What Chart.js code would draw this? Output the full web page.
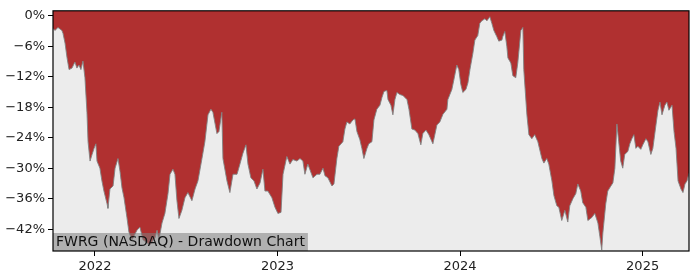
<!DOCTYPE html>
<html>
<head>
<meta charset="utf-8">
<script src="https://cdn.jsdelivr.net/npm/chart.js@4"></script>
<style>
  html, body { margin: 0; padding: 0; background: #fff; }
  #wrap { width: 700px; height: 280px; }
</style>
</head>
<body>
<div id="wrap"><canvas id="ddChart" width="700" height="280"></canvas></div>
<script>
// dates as decimal years, drawdown in percent
const dates = [
  2021.770, 2021.781, 2021.797, 2021.819, 2021.825, 2021.836, 2021.847, 2021.858, 2021.874, 2021.890,
  2021.901, 2021.912, 2021.923, 2021.934, 2021.945, 2021.956, 2021.962, 2021.973, 2021.984, 2021.995,
  2022.005, 2022.011, 2022.027, 2022.038, 2022.049, 2022.066, 2022.071, 2022.082, 2022.099, 2022.110,
  2022.126, 2022.137, 2022.148, 2022.159, 2022.175, 2022.186, 2022.203, 2022.230, 2022.246, 2022.263,
  2022.301, 2022.329, 2022.340, 2022.350, 2022.367, 2022.383, 2022.400, 2022.411, 2022.427, 2022.438,
  2022.449, 2022.460, 2022.476, 2022.493, 2022.509, 2022.531, 2022.548, 2022.564, 2022.586, 2022.602,
  2022.619, 2022.635, 2022.646, 2022.668, 2022.679, 2022.695, 2022.701, 2022.723, 2022.739, 2022.756,
  2022.778, 2022.794, 2022.810, 2022.827, 2022.838, 2022.854, 2022.871, 2022.887, 2022.904, 2022.920,
  2022.931, 2022.947, 2022.969, 2022.986, 2023.002, 2023.019, 2023.030, 2023.051, 2023.068, 2023.084,
  2023.106, 2023.123, 2023.139, 2023.150, 2023.166, 2023.194, 2023.216, 2023.232, 2023.249, 2023.260,
  2023.276, 2023.298, 2023.309, 2023.325, 2023.336, 2023.358, 2023.369, 2023.380, 2023.396, 2023.413,
  2023.424, 2023.435, 2023.451, 2023.462, 2023.473, 2023.490, 2023.500, 2023.517, 2023.528, 2023.544,
  2023.561, 2023.572, 2023.583, 2023.599, 2023.605, 2023.621, 2023.632, 2023.643, 2023.654, 2023.670,
  2023.687, 2023.709, 2023.720, 2023.736, 2023.752, 2023.769, 2023.785, 2023.796, 2023.813, 2023.829,
  2023.851, 2023.873, 2023.889, 2023.906, 2023.928, 2023.933, 2023.955, 2023.966, 2023.982, 2023.993,
  2024.004, 2024.015, 2024.032, 2024.043, 2024.054, 2024.070, 2024.081, 2024.097, 2024.108, 2024.119,
  2024.136, 2024.147, 2024.163, 2024.174, 2024.185, 2024.201, 2024.212, 2024.229, 2024.234, 2024.245,
  2024.256, 2024.262, 2024.278, 2024.289, 2024.305, 2024.316, 2024.333, 2024.344, 2024.349, 2024.366,
  2024.377, 2024.393, 2024.409, 2024.426, 2024.448, 2024.459, 2024.475, 2024.486, 2024.503, 2024.514,
  2024.530, 2024.541, 2024.557, 2024.574, 2024.590, 2024.601, 2024.618, 2024.634, 2024.645, 2024.661,
  2024.672, 2024.689, 2024.700, 2024.722, 2024.738, 2024.755, 2024.766, 2024.776, 2024.782, 2024.798,
  2024.809, 2024.826, 2024.837, 2024.848, 2024.859, 2024.869, 2024.880, 2024.891, 2024.902, 2024.919,
  2024.930, 2024.941, 2024.952, 2024.963, 2024.974, 2024.990, 2025.001, 2025.018, 2025.029, 2025.045,
  2025.056, 2025.073, 2025.084, 2025.095, 2025.106, 2025.122, 2025.133, 2025.144, 2025.161, 2025.172,
  2025.183, 2025.194, 2025.210, 2025.221, 2025.232, 2025.243, 2025.254
];
const drawdown = [
  -2.5, -2.9, -2.3, -2.9, -3.5, -5.4, -8.3, -10.6, -10.3, -9.1,
  -10.3, -9.7, -10.6, -8.9, -12.2, -19.0, -24.8, -28.6, -27.3, -26.1,
  -25.2, -28.6, -30.0, -32.5, -34.5, -37.0, -37.9, -34.1, -33.5, -30.0,
  -28.1, -30.6, -33.9, -35.8, -39.7, -42.6, -44.1, -42.2, -41.6, -44.1,
  -45.1, -43.7, -42.2, -44.1, -40.8, -38.9, -35.0, -31.2, -30.2, -31.2,
  -36.4, -39.9, -38.3, -35.8, -34.8, -36.4, -34.1, -32.5, -28.1, -24.8,
  -19.5, -18.4, -19.0, -23.2, -22.8, -19.0, -28.1, -32.5, -34.8, -31.2,
  -31.2, -29.2, -27.1, -25.4, -29.2, -31.9, -32.5, -34.1, -32.9, -30.2,
  -34.5, -34.5, -35.8, -37.7, -38.9, -38.7, -31.2, -27.7, -29.2, -28.3,
  -28.6, -28.1, -28.6, -31.2, -29.2, -31.9, -31.2, -31.2, -30.0, -31.5,
  -31.9, -33.5, -33.1, -28.1, -25.7, -24.8, -22.3, -20.9, -21.3, -20.5,
  -20.3, -22.8, -24.4, -26.1, -28.1, -26.1, -25.2, -24.8, -20.5, -18.4,
  -17.6, -16.1, -14.9, -14.7, -16.5, -17.6, -19.5, -16.5, -15.1, -15.5,
  -15.7, -16.5, -18.4, -22.3, -22.5, -23.2, -25.4, -23.2, -22.5, -23.4,
  -25.2, -21.5, -20.9, -19.4, -18.4, -16.5, -14.5, -12.6, -9.7, -10.6,
  -13.5, -15.1, -14.5, -13.2, -10.6, -7.4, -4.8, -3.9, -1.5, -1.0,
  -0.6, -1.0, -0.2, -1.5, -2.9, -4.1, -5.0, -4.8, -4.1, -3.1,
  -6.0, -8.3, -9.3, -11.8, -12.2, -9.3, -2.9, -2.3, -10.6, -19.5,
  -23.4, -24.2, -23.4, -24.8, -28.1, -29.0, -28.1, -29.2, -32.5, -35.4,
  -37.4, -37.7, -40.3, -38.3, -40.6, -37.4, -36.0, -35.0, -33.1, -34.5,
  -36.8, -37.7, -40.3, -39.7, -38.9, -40.8, -43.5, -46.1, -42.8, -37.0,
  -34.5, -33.5, -32.9, -30.0, -21.3, -24.8, -28.6, -30.0, -27.3, -26.7,
  -25.2, -24.2, -23.4, -26.1, -25.7, -26.3, -25.4, -24.2, -24.8, -27.3,
  -26.1, -21.5, -18.6, -17.0, -19.5, -17.6, -17.0, -18.6, -17.6, -22.8,
  -26.1, -32.5, -34.1, -34.8, -33.1, -32.5, -31.0
];
const yearTicks = [2022, 2023, 2024, 2025];
const pctTicks = [0, -6, -12, -18, -24, -30, -36, -42];
const chartTitle = 'FWRG (NASDAQ) - Drawdown Chart';

const points = dates.map((d, i) => ({ x: d, y: drawdown[i] }));

const framePlugin = {
    id: 'frame',
    beforeDatasetsDraw(chart) {
        const a = chart.chartArea;
        const ctx = chart.ctx;
        ctx.save();
        ctx.fillStyle = '#ececec';
        ctx.fillRect(a.left, a.top, a.right - a.left, a.bottom - a.top);
        ctx.restore();
    },
    afterDatasetsDraw(chart) {
        const a = chart.chartArea;
        const ctx = chart.ctx;
        ctx.save();
        // label box bottom-left
        ctx.font = '14px "DejaVu Sans"';
        const w = ctx.measureText(chartTitle).width;
        ctx.fillStyle = 'rgba(128,128,128,0.55)';
        ctx.fillRect(a.left, a.bottom - 18, w + 6, 18);
        ctx.fillStyle = '#111';
        ctx.textBaseline = 'middle';
        ctx.fillText(chartTitle, a.left + 3, a.bottom - 9);
        // frame
        ctx.strokeStyle = '#000';
        ctx.lineWidth = 1.2;
        ctx.strokeRect(a.left, a.top, a.right - a.left, a.bottom - a.top);
        ctx.restore();
    }
};

new Chart(document.getElementById('ddChart').getContext('2d'), {
    type: 'line',
    data: {
        datasets: [{
            data: points,
            fill: 'end',
            backgroundColor: '#b03030',
            borderColor: 'rgba(130,130,130,0.9)',
            borderWidth: 1,
            pointRadius: 0,
            tension: 0
        }]
    },
    options: {
        responsive: false,
        animation: false,
        layout: { padding: { left: 0, right: 11, top: 7, bottom: 0 } },
        plugins: { legend: { display: false }, tooltip: { enabled: false } },
        scales: {
            x: {
                type: 'linear',
                min: 2021.770,
                max: 2025.254,
                afterBuildTicks: (s) => { s.ticks = yearTicks.map(v => ({ value: v })); },
                afterFit: (s) => { s.height = 29; },
                grid: { drawOnChartArea: false, tickLength: 5, tickColor: '#000' },
                border: { display: false },
                ticks: {
                    padding: 3,
                    color: '#222',
                    font: { family: 'DejaVu Sans', size: 13 },
                    maxRotation: 0,
                    callback: (v) => String(v)
                }
            },
            y: {
                min: -46.3,
                max: 0.97,
                afterBuildTicks: (s) => { s.ticks = pctTicks.map(v => ({ value: v })); },
                afterFit: (s) => { s.width = 53; },
                grid: { drawOnChartArea: false, tickLength: 5, tickColor: '#000' },
                border: { display: false },
                ticks: {
                    padding: 3,
                    color: '#222',
                    font: { family: 'DejaVu Sans', size: 13 },
                    callback: (v) => (v === 0 ? '0' : '\u2212' + Math.abs(v)) + '%'
                }
            }
        }
    },
    plugins: [framePlugin]
});
</script>
</body>
</html>
